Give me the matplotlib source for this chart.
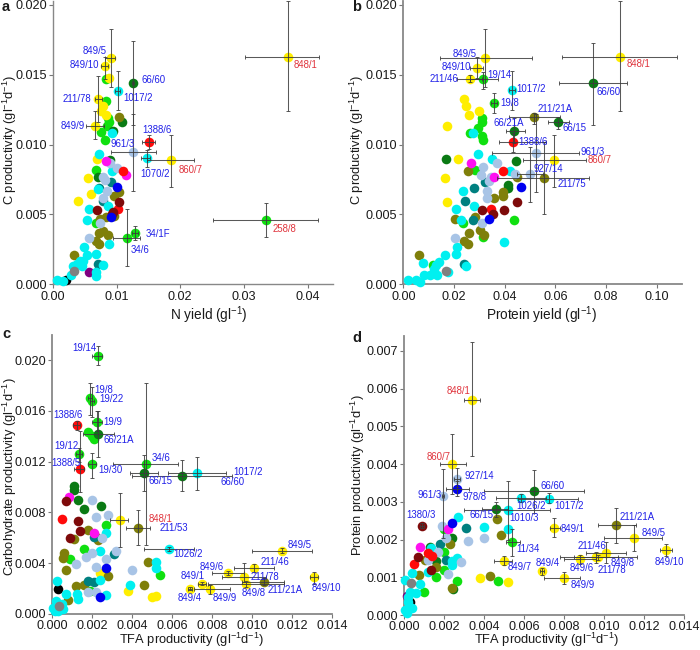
import matplotlib
matplotlib.use('Agg')
import matplotlib.pyplot as plt

plt.rcParams['font.family'] = ['Liberation Sans', 'DejaVu Sans']
plt.rcParams['mathtext.fontset'] = 'custom'
plt.rcParams['mathtext.rm'] = 'Liberation Sans'
plt.rcParams['mathtext.default'] = 'rm'

# ---------- panel a: N yield vs C productivity ----------
a_cyan = [(.0006,.0003),(.0016,.00026),(.0029,.0007),(.0031,.0013),(.0038,.00145),(.0042,.0017),(.0047,.0017),(.0048,.0027),(.0054,.0021),(.0045,.0013),(.0067,.0022),(.0079,.0014),(.0068,.0009),(.0067,.0006),(.0088,.0029),(.0057,.0054),(.0054,.0046),(.007,.0068),(.0073,.0093),(.0092,.0108),(.0092,.0081),(.0086,.0056),(.0102,.01387),(.0147,.00905)]
a_yellow = [(.0091,.0162),(.0081,.0156),(.0088,.0148),(.0071,.0133),(.0078,.0128),(.0075,.0124),(.0083,.0121),(.0066,.0113),(.0069,.009),(.0055,.0076),(.0059,.0065),(.0039,.006),(.037,.0163),(.0186,.0089)]
a_lime = [(.0083,.0147),(.0083,.0131),(.0087,.0119),(.0088,.0116),(.0085,.0113),(.0076,.0109),(.0082,.0103),(.0068,.0082),(.0335,.0046),(.0116,.0033),(.0129,.0037),(.0068,.0044)]
a_dgreen = [(.0126,.0144),(.0109,.0116),(.0094,.011),(.009,.0089),(.007,.0077)]
a_olive = [(.0104,.012),(.0103,.0066),(.0096,.0063),(.0096,.0049),(.0083,.0048),(.0074,.0047),(.0079,.0038),(.0072,.0037),(.0086,.0035),(.0067,.0031),(.0073,.0029),(.0033,.0021)]
a_teal = [(.0073,.0069),(.0091,.0073),(.0079,.006),(.007,.00145)]
a_lblue = [(.0126,.00945),(.009,.0087),(.0101,.0083),(.0079,.0077),(.0082,.0075),(.0085,.0067),(.0079,.0062),(.0074,.0044),(.0057,.0033)]
a_maroon = [(.0104,.0059),(.0094,.0052),(.0069,.0053),(.0092,.005)]
a_red = [(.011,.0081),(.0151,.0102),(.0102,.0054)]
a_blue = [(.0101,.007),(.0091,.0048)]
a_magenta = [(.0083,.0088),(.0115,.0078)]
a_purple = [(.0056,.0009)]
a_gray = [(.0033,.00095)]
a_black = [(.0021,.0003)]
# name, x, y, x low, x high, y low, y high
a_err = [('848/1',.037,.0163,.0302,.0418,.0124,.0203),('258/8',.0335,.0046,.0252,.0416,.0034,.0058),('860/7',.0186,.0089,.0147,.0222,.007,.0107),('849/5',.0091,.0162,.0082,.0098,.0141,.0183),('849/10',.0081,.0156,.0076,.0086,.0147,.0163),('66/60',.0126,.0144,.0124,.0128,.0114,.0174),('1017/2',.0102,.01387,.0098,.0106,.0125,.0153),('211/78',.0071,.0133,.0066,.0077,.0116,.0149),('849/9',.0066,.0113,.0052,.008,.0104,.0124),('961/3',.0126,.00945,.0091,.0162,.0067,.0122),('1070/2',.0147,.00905,.0139,.0153,.0084,.0096),('1388/6',.0151,.0102,.014,.0161,.0097,.0107),('34/6',.0116,.0033,.0095,.0137,.0013,.0054),('34/1F',.0129,.0037,.0124,.0134,.0032,.0042)]
a_labels = {'849/5':(-28,7),'849/10':(-35,1),'66/60':(8,3),'1017/2':(5,-7),'211/78':(-36,0),'849/9':(-34,0),'1388/6':(-7,12),'961/3':(-23,8),'1070/2':(-6,-16),'860/7':(7,-10),'848/1':(5,-8),'258/8':(6,-9),'34/1F':(11,-1),'34/6':(4,-12)}

# ---------- panel b: protein yield vs C productivity ----------
b_cyan = [(.002,.0003),(.0049,.0003),(.0066,.0002),(.0082,.0007),(.0079,.0015),(.0105,.00067),(.0134,.00067),(.0121,.0011),(.0129,.0014),(.0142,.0016),(.0164,.0021),(.0178,.0009),(.0209,.0022),(.0211,.0027),(.0247,.0013),(.0399,.003),(.0207,.0054),(.0229,.0046),(.028,.0056),(.0237,.0067),(.0293,.0093),(.0349,.009),(.0276,.0108),(.0421,.0081),(.0428,.0139)]
b_yellow = [(.0241,.0133),(.0247,.0128),(.0259,.0121),(.0299,.0124),(.0172,.0113),(.0216,.009),(.0166,.0076),(.0172,.0059),(.0324,.0162),(.0291,.0155),(.0262,.0147),(.0854,.0163),(.0596,.0089)]
b_lime = [(.0316,.0147),(.0358,.013),(.0312,.0119),(.0311,.0116),(.0296,.0112),(.0263,.0108),(.0309,.0106),(.0313,.0103),(.0282,.0082),(.0437,.0046),(.0237,.0044),(.0316,.0034),(.0118,.0014)]
b_dgreen = [(.075,.0144),(.0612,.0116),(.0438,.011),(.0168,.009),(.0445,.0088),(.0414,.0071),(.0414,.0069)]
b_olive = [(.0517,.012),(.0555,.0076),(.0062,.0021),(.0257,.0081),(.0447,.0077),(.0357,.0062),(.0393,.0066),(.0392,.0063),(.0204,.0047),(.0283,.0048),(.0259,.0037),(.0301,.0039),(.032,.0035),(.0241,.0031),(.0257,.0029)]
b_teal = [(.028,.0069),(.0245,.006),(.0322,.0073),(.0276,.0046),(.0241,.00145)]
b_lblue = [(.0522,.0094),(.05,.0079),(.0371,.0087),(.0316,.0084),(.0307,.0078),(.0346,.0077),(.0338,.0074),(.0332,.0067),(.0329,.0062),(.0441,.0079),(.0311,.0044),(.0204,.0033)]
b_maroon = [(.045,.0059),(.0399,.0053),(.0309,.0053),(.0355,.005)]
b_red = [(.0433,.0102),(.0395,.0081),(.0346,.0054)]
b_blue = [(.0464,.007),(.0339,.0047)]
b_magenta = [(.0267,.0087),(.0359,.0077)]
b_purple = []
b_gray = [(.0167,.00095)]
b_black = []
b_err = [('848/1',.0854,.0163,.0628,.1082,.0124,.0203),('66/60',.075,.0144,.0616,.0882,.0114,.0173),('849/5',.0324,.0162,.0145,.0507,.0141,.0183),('849/10',.0291,.0155,.0265,.0315,.0148,.0163),('211/46',.0262,.0147,.0213,.0309,.0145,.015),('19/14',.0316,.0147,.0265,.0375,.014,.0152),('1017/2',.0428,.0139,.0416,.0441,.0125,.0153),('19/8',.0358,.013,.0345,.037,.0123,.0137),('211/21A',.0517,.012,.0417,.0618,.0115,.0123),('66/15',.0612,.0116,.057,.0655,.0111,.012),('66/21A',.0438,.011,.0404,.048,.0101,.0119),('1388/6',.0433,.0102,.0378,.0562,.0095,.0108),('961/3',.0522,.0094,.0351,.0695,.0066,.0122),('860/7',.0596,.0089,.0474,.0721,.007,.0107),('927/14',.05,.0079,.0447,.0553,.0059,.0098),('211/75',.0555,.0076,.0368,.0734,.005,.0102)]
b_labels = {'849/5':(-33,4),'849/10':(-35,1),'211/46':(-40,0),'19/14':(4,4),'1017/2':(5,1),'19/8':(6,0),'211/21A':(3,8),'66/21A':(-21,8),'66/15':(4,-6),'1388/6':(5,0),'961/3':(45,1),'860/7':(33,0),'927/14':(4,5),'211/75':(14,-6),'848/1':(7,-7),'66/60':(3,-9)}

# ---------- panel c: TFA vs carbohydrate productivity ----------
c_cyan = [(.00025,.0026),(.0007,.0016),(.00125,.0016),(.0013,.0012),(.00005,.00045),(.0002,.001),(.0005,.0008),(.00013,.0002),(.00055,.0004),(.0003,.0002),(.0024,.005),(.0027,.0064),(.0024,.0027),(.0027,.0015),(.0039,.0023),(.0052,.0041),(.0052,.0036),(.00585,.0051),(.00723,.0111)]
c_yellow = [(.0034,.0074),(.0024,.0032),(.0038,.0018),(.005,.0013),(.0052,.0014),(.0115,.005),(.0101,.0036),(.0088,.00325),(.0096,.0029),(.0075,.0024),(.0097,.00236),(.00687,.002),(.0079,.00194),(.0131,.0029)]
c_lime = [(.00227,.0203),(.0019,.017),(.002,.0168),(.00223,.0151),(.0018,.0143),(.002,.014),(.0021,.0138),(.00135,.01257),(.002,.0118),(.0047,.0118),(.0027,.007),(.0016,.0051),(.0009,.0043),(.0054,.0031),(.0019,.0018)]
c_dgreen = [(.0023,.0142),(.0046,.0111),(.0065,.0109),(.0011,.0101),(.0011,.0098),(.0013,.009),(.0016,.0083),(.00245,.0085)]
c_olive = [(.0043,.0068),(.0106,.0025),(.0018,.0066),(.0011,.0059),(.0022,.0061),(.0023,.0058),(.0006,.0048),(.00055,.0044),(.0007,.0035),(.0048,.0041),(.0046,.0023),(.0012,.0022),(.0016,.0023),(.0028,.003),(.0008,.0011)]
c_teal = [(.0021,.0061),(.0031,.0047),(.0018,.0026),(.0021,.0025)]
c_lblue = [(.002,.009),(.0022,.0076),(.0028,.0078),(.0025,.006),(.0032,.005),(.0012,.0039),(.0017,.0045),(.002,.0048),(.0027,.0043),(.0022,.0037),(.004,.0035),(.0018,.0017),(.0022,.0017)]
c_maroon = [(.00067,.0089),(.0013,.0073),(.0014,.0065),(.0009,.006)]
c_red = [(.00123,.0149),(.00137,.0114),(.0005,.0075)]
c_blue = [(.0027,.0036),(.0024,.0013)]
c_magenta = [(.00083,.0092),(.0021,.0064)]
c_purple = []
c_gray = [(.00033,.00066)]
c_black = [(.0003,.002)]
c_err = [('19/14',.00227,.0203,.002,.0025,.0196,.0211),('19/8',.0019,.017,.0018,.002,.0157,.0182),('19/22',.002,.0168,.0019,.0021,.0155,.0179),('19/9',.00223,.0151,.002,.0025,.0144,.016),('1388/6',.00123,.0149,.00105,.0014,.0145,.0152),('66/21A',.0023,.0142,.00155,.0031,.0124,.016),('19/12',.00135,.01257,.0012,.0015,.012,.0131),('19/30',.002,.0118,.0018,.0022,.0107,.0127),('1388/5',.00137,.0114,.0011,.0016,.0096,.0144),('34/6',.0047,.0118,.00305,.0063,.0054,.0182),('66/15',.0046,.0111,.0039,.0053,.0097,.0125),('66/60',.0065,.0109,.004,.009,.0097,.0121),('1017/2',.00723,.0111,.0058,.0087,.0098,.0124),('848/1',.0034,.0074,.0029,.0038,.0053,.0095),('211/53',.0043,.0068,.0037,.0049,.0054,.0082),('1026/2',.00585,.0051,.0046,.0071,.00495,.00525),('849/5',.0115,.005,.01,.013,.0048,.0052),('211/46',.0101,.0036,.0091,.0111,.0033,.0039),('849/6',.0088,.00325,.008,.0096,.0031,.0034),('211/78',.0096,.0029,.0085,.0107,.0025,.004),('849/1',.0075,.0024,.0073,.0077,.0023,.0025),('849/8',.0097,.00236,.0078,.0116,.0021,.0026),('211/21A',.0106,.0025,.0095,.0116,.0023,.0028),('849/4',.00687,.002,.0068,.007,.0019,.0021),('849/9',.0079,.00194,.0071,.0089,.0016,.0023),('849/10',.0131,.0029,.0129,.0133,.0024,.0033)]
c_labels = {'19/14':(-25,8),'19/8':(4,8),'19/22':(7,2),'1388/6':(-24,10),'19/9':(6,0),'66/21A':(5,-6),'19/12':(-25,8),'1388/5':(-28,6),'34/6':(5,6),'19/30':(6,-6),'1017/2':(36,1),'66/15':(4,-8),'66/60':(38,-6),'848/1':(28,1),'211/53':(21,0),'849/5':(5,6),'1026/2':(4,-5),'211/46':(6,6),'849/6':(-29,6),'849/1':(-22,8),'211/78':(6,0),'849/8':(-5,-9),'211/21A':(3,-8),'849/10':(-3,-11),'849/4':(-12,-9),'849/9':(2,-9)}

# ---------- panel d: TFA vs protein productivity ----------
d_cyan = [(.0052,.00278),(.00586,.0031),(.00724,.00308),(.0027,.0026),(.004,.00234),(.0052,.00228),(.00266,.0015),(.0024,.00143),(.0024,.00133),(.00135,.00177),(.0004,.0011),(.00005,.00093),(.0008,.00081),(.0006,.00059),(.0003,.00062),(.0002,.00049),(.0002,.00035),(.0004,.00019),(.00005,.00013),(.00017,.00006),(.0012,.00115)]
d_yellow = [(.0034,.0057),(.0024,.004),(.0075,.0023),(.0115,.00203),(.0131,.00172),(.0101,.00164),(.0096,.00153),(.00877,.00148),(.0097,.00153),(.00688,.00116),(.008,.00097),(.005,.00143),(.0038,.00097),(.0052,.00088)]
d_lime = [(.0054,.00193),(.0047,.0009),(.00266,.0009),(.0016,.001),(.001,.00062),(.002,.00228),(.002,.00168),(.002,.00118)]
d_dgreen = [(.0065,.00329),(.0046,.0028),(.0013,.00181),(.0024,.00203),(.0016,.00143),(.00246,.00068)]
d_olive = [(.0106,.00238),(.00466,.00254),(.00486,.00213),(.0043,.00104),(.0024,.00071),(.00075,.00106),(.0023,.00188),(.0016,.00128),(.00105,.00146)]
d_teal = [(.0031,.0023),(.0018,.00189),(.0021,.00146)]
d_lblue = [(.00196,.00314),(.00265,.0036),(.0019,.00236),(.0032,.00196),(.004,.00203),(.0021,.00203),(.00285,.0014),(.0022,.00108),(.0017,.00166),(.0012,.00146)]
d_maroon = [(.0009,.00237),(.0007,.00153),(.00135,.00119)]
d_red = [(.0012,.00164),(.00138,.00155),(.0005,.00134)]
d_blue = [(.00265,.00333),(.0024,.00245)]
d_magenta = [(.0008,.00181),(.0022,.00227)]
d_purple = [(.00013,.0005)]
d_gray = [(.00033,.00084)]
d_black = [(.0003,.00035)]
d_err = [('848/1',.0034,.0057,.003,.0038,.0042,.00723),('860/7',.0024,.004,.0018,.0031,.0032,.0048),('961/3',.00196,.00314,.0019,.002,.00205,.00387),('927/14',.00265,.0036,.0025,.0028,.0034,.0039),('978/8',.00265,.00333,.0021,.00325,.00314,.00354),('66/60',.0065,.00329,.004,.009,.0027,.00384),('66/15',.0046,.0028,.0039,.0052,.0026,.003),('1010/3',.0052,.00278,.003,.0073,.002,.00355),('1026/2',.00586,.0031,.0046,.0071,.003,.0032),('1017/2',.00724,.00308,.0057,.0087,.00296,.00322),('11/34',.0054,.00193,.0051,.0058,.00157,.00228),('849/1',.0075,.0023,.0073,.0078,.00206,.00256),('211/21A',.0106,.00238,.0097,.0116,.0019,.00283),('849/5',.0115,.00203,.01,.0129,.0017,.00239),('849/10',.0131,.00172,.0128,.0134,.00156,.00187),('211/46',.0101,.00164,.0091,.0111,.00137,.00193),('211/78',.0096,.00153,.0085,.0107,.00137,.00168),('849/8',.0097,.00153,.0078,.01165,.00145,.0016),('849/6',.00877,.00148,.008,.0096,.00135,.0016),('849/4',.00688,.00116,.0068,.007,.00105,.00125),('849/9',.008,.00097,.007,.0088,.00081,.00113),('849/7',.005,.00143,.0045,.0054,.00133,.00155),('1380/3',.0009,.00237,.0008,.001,.0023,.00244)]
d_labels = {'848/1':(-25,9),'860/7':(-25,7),'927/14':(7,3),'961/3':(-26,1),'978/8':(5,-8),'66/60':(6,5),'1026/2':(-5,-8),'1017/2':(5,-7),'66/15':(-27,-6),'1010/3':(1,-8),'1380/3':(-16,11),'211/21A':(3,8),'849/5':(7,5),'849/1':(6,-1),'11/34':(4,-7),'211/46':(-29,7),'849/8':(12,-6),'849/10':(-12,-12),'849/7':(4,-6),'849/4':(-6,8),'849/6':(-10,-9),'211/78':(1,-13),'849/9':(6,-7)}

COL = {'cyan':'#00F0F0','yellow':'#FFEE00','lime':'#10E010','dgreen':'#0A7A14','olive':'#7F7F0A',
       'teal':'#008080','lblue':'#A8C4E6','maroon':'#7E0A0A','red':'#FF0A0A','blue':'#0000F0',
       'magenta':'#FF10F0','purple':'#800080','gray':'#808080','black':'#000000'}
ORDER = ['lime','dgreen','purple','black','yellow','olive','teal','cyan','lblue','magenta','red','maroon','blue','gray']
RED_LABELS = {'848/1','860/7','258/8'}
W, H = 700, 650
fig = plt.figure(figsize=(W/100, H/100), dpi=100)

def panel(letter, box, xlim, ylim, xticks, yticks, xfmt, yfmt, groups, err, labels):
    l, r, b, t = box
    ax = fig.add_axes([l/W, 1-b/H, (r-l)/W, (b-t)/H])
    ax.set_xlim(0, xlim); ax.set_ylim(0, ylim)
    for name in ORDER:
        pts = groups[name]
        if pts:
            ax.scatter([p[0] for p in pts], [p[1] for p in pts], s=48, color=COL[name],
                       linewidths=0, clip_on=False, zorder=3)
    for n, x, y, xl, xh, yl, yh in err:
        ax.errorbar([x], [y], xerr=[[x-xl],[xh-x]], yerr=[[y-yl],[yh-y]], fmt='none',
                    ecolor='#3c3c3c', elinewidth=0.75, capsize=1.6, capthick=0.7, zorder=4, clip_on=False, alpha=.85)
        if n in labels:
            dx, dy = labels[n]
            ax.annotate(n, (x, y), xytext=(dx*0.72, dy*0.72), textcoords='offset points', ha='left', va='center',
                        fontsize=6.9, color='#E0333C' if n in RED_LABELS else '#2020E8', zorder=5)
    ax.set_xticks(xticks); ax.set_yticks(yticks)
    ax.set_xticklabels([xfmt % v for v in xticks]); ax.set_yticklabels([yfmt % v for v in yticks])
    ax.tick_params(labelsize=9.1, length=3, width=0.8, color='#777777', labelcolor='#1a1a1a', pad=1.5)
    for s in ('top', 'right'):
        ax.spines[s].set_visible(False)
    for s in ('left', 'bottom'):
        ax.spines[s].set_color('#888888'); ax.spines[s].set_linewidth(1.0 if letter == 'a' else 1.3)
    return ax

def grp(c, ye, li, dg, ol, te, lb, ma, re, bl, mg, pu, gr, bk):
    return dict(cyan=c, yellow=ye, lime=li, dgreen=dg, olive=ol, teal=te, lblue=lb, maroon=ma, red=re,
                blue=bl, magenta=mg, purple=pu, gray=gr, black=bk)

xt_tfa = [0, .002, .004, .006, .008, .010, .012, .014]
panel('a', (53, 333, 284.3, 0.5), .044, .02032, [0, .01, .02, .03, .04], [0, .005, .01, .015, .02], '%.2f', '%.3f',
      grp(a_cyan,a_yellow,a_lime,a_dgreen,a_olive,a_teal,a_lblue,a_maroon,a_red,a_blue,a_magenta,a_purple,a_gray,a_black), a_err, a_labels)
panel('b', (403.3, 682, 284.3, 0.5), .11, .02032, [0, .02, .04, .06, .08, .10], [0, .005, .01, .015, .02], '%.2f', '%.3f',
      grp(b_cyan,b_yellow,b_lime,b_dgreen,b_olive,b_teal,b_lblue,b_maroon,b_red,b_blue,b_magenta,b_purple,b_gray,b_black), b_err, b_labels)
panel('c', (52.3, 332.3, 614, 335), .014, .02197, xt_tfa, [0, .004, .008, .012, .016, .02], '%.3f', '%.3f',
      grp(c_cyan,c_yellow,c_lime,c_dgreen,c_olive,c_teal,c_lblue,c_maroon,c_red,c_blue,c_magenta,c_purple,c_gray,c_black), c_err, c_labels)
panel('d', (404, 684.3, 615, 335.7), .014, .0074, xt_tfa, [0, .001, .002, .003, .004, .005, .006, .007], '%.3f', '%.3f',
      grp(d_cyan,d_yellow,d_lime,d_dgreen,d_olive,d_teal,d_lblue,d_maroon,d_red,d_blue,d_magenta,d_purple,d_gray,d_black), d_err, d_labels)

def ftext(px, py, s, **kw):
    fig.text(px/W, 1-py/H, s, ha=kw.pop('ha','center'), va='center', color='#1a1a1a', **kw)

SUP = r'$^{-1}$'
FS1, FS2 = 9.8, 9.3
ftext(209, 315, 'N yield (gl'+SUP+')', fontsize=FS1)
ftext(542, 315, 'Protein yield (gl'+SUP+')', fontsize=FS1)
ftext(192, 639.5, 'TFA productivity (gl'+SUP+'d'+SUP+')', fontsize=FS2)
ftext(547, 640, 'TFA productivity (gl'+SUP+'d'+SUP+')', fontsize=FS2)
ftext(10, 140, 'C productivity (gl'+SUP+'d'+SUP+')', fontsize=FS2, rotation=90)
ftext(357, 140, 'C productivity (gl'+SUP+'d'+SUP+')', fontsize=FS2, rotation=90)
ftext(10, 477, 'Carbohydrate productivity (gl'+SUP+'d'+SUP+')', fontsize=FS2, rotation=90)
ftext(358, 475, 'Protein productivity (gl'+SUP+'d'+SUP+')', fontsize=FS2, rotation=90)
for s, px, py in [('a', 2, 7), ('b', 352, 7), ('c', 2, 334), ('d', 352, 338)]:
    ftext(px, py, s, fontsize=10.5, fontweight='bold', ha='left')

fig.savefig('out.png', dpi=100)
